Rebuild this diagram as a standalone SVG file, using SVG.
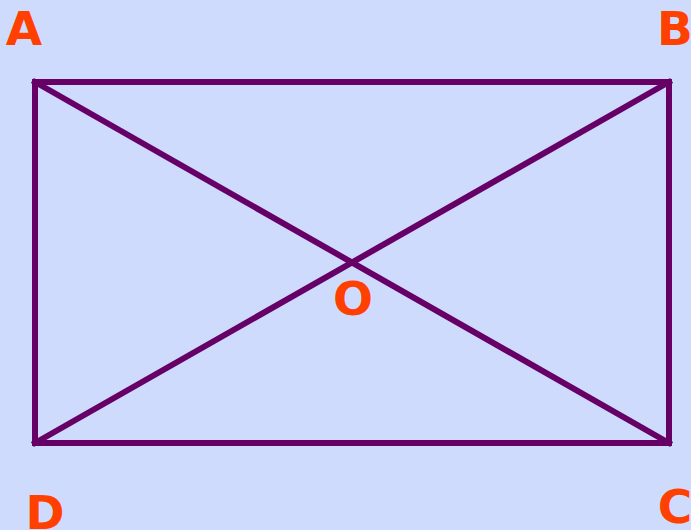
<svg xmlns="http://www.w3.org/2000/svg" width="691" height="530" viewBox="0 0 691 530">
<style>
.lbl{font-family:"DejaVu Sans",Verdana,sans-serif;font-weight:bold;font-size:47px;fill:#FF4000}
.edge{stroke:#660066;stroke-width:6;fill:none;stroke-linecap:square}
</style>
<rect width="691" height="530" fill="#CFDBFC"/>
<g id="connectors">
<rect class="edge" x="35" y="82" width="634" height="361"/>
<line class="edge" x1="35" y1="82" x2="669" y2="443"/>
<line class="edge" x1="669" y1="82" x2="35" y2="443"/>
</g>
<g id="A"><text class="lbl" x="24" y="45" text-anchor="middle">A</text></g>
<g id="B"><text class="lbl" x="675" y="45" text-anchor="middle">B</text></g>
<g id="C"><text class="lbl" x="675" y="523" text-anchor="middle">C</text></g>
<g id="D"><text class="lbl" x="45" y="529" text-anchor="middle">D</text></g>
<g id="O"><text class="lbl" x="353" y="315" text-anchor="middle">O</text></g>
</svg>
